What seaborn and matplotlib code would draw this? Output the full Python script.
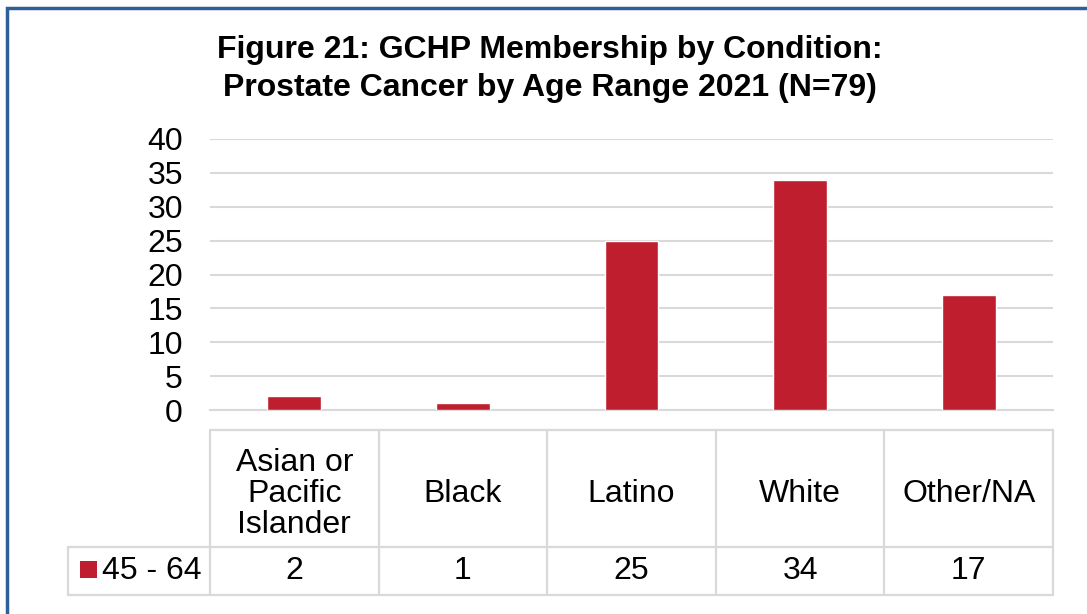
import matplotlib
matplotlib.use("Agg")
import matplotlib.pyplot as plt
from matplotlib.patches import Rectangle
from matplotlib.transforms import blended_transform_factory
import seaborn as sns
import pandas as pd

# Data
categories = ["Asian or\nPacific\nIslander", "Black", "Latino", "White", "Other/NA"]
values = [2, 1, 25, 34, 17]
series_name = "45 - 64"
title = "Figure 21: GCHP Membership by Condition:\nProstate Cancer by Age Range 2021 (N=79)"
yticks = [0, 5, 10, 15, 20, 25, 30, 35, 40]

BAR_COLOR = "#BE1E2D"
GRID_COLOR = "#D9D9D9"
FRAME_COLOR = "#2F5F98"
FS = 23

sns.set_theme(style="white")
plt.rcParams["font.family"] = ["Liberation Sans", "DejaVu Sans"]
plt.rcParams["text.color"] = "black"
plt.rcParams["ytick.color"] = "black"

W, H = 1087, 614
fig = plt.figure(figsize=(W / 100, H / 100), dpi=100)
fig.patch.set_facecolor("white")

# plot area in pixel terms
left_px, right_px, top_px, bottom_px = 210, 1053, 139, 410
ax = fig.add_axes([left_px / W, 1 - bottom_px / H,
                   (right_px - left_px) / W, (bottom_px - top_px) / H])

df = pd.DataFrame({"category": categories, "value": values})
sns.barplot(data=df, x="category", y="value", color=BAR_COLOR,
            saturation=1, width=0.32, ax=ax, zorder=3)

ax.set_ylim(0, 40)
ax.set_xlim(-0.5, len(categories) - 0.5)
ax.set_yticks(yticks)
ax.set_yticklabels([str(t) for t in yticks], fontsize=FS, color="black")
ax.tick_params(axis="y", length=0, pad=19.5)
ax.set_xticks([])
ax.set_xlabel("")
ax.set_ylabel("")
ax.grid(axis="y", color=GRID_COLOR, linewidth=1.5, zorder=0)
for s in ["left", "right", "top"]:
    ax.spines[s].set_visible(False)
ax.spines["bottom"].set_color(GRID_COLOR)
ax.spines["bottom"].set_linewidth(1.5)
ax.spines["bottom"].set_zorder(1)

fig.text(550 / W, 1 - 69 / H, title, ha="center", va="center",
         fontsize=FS, fontweight="bold", linespacing=1.33, color="black")

# Data table below the plot: x in data units, y in axes units
tr = blended_transform_factory(ax.transData, ax.transAxes)
ax_h = bottom_px - top_px
y_head_top = -(430 - bottom_px) / ax_h
y_mid = -(547 - bottom_px) / ax_h
y_bot = -(595 - bottom_px) / ax_h
y_head_text = -(494 - bottom_px) / ax_h
y_row = -(571 - bottom_px) / ax_h
cat_w = (right_px - left_px) / len(categories)
x_label_left = (68 - left_px) / cat_w - 0.5

line_kw = dict(color=GRID_COLOR, linewidth=1.6, transform=tr, clip_on=False)
n = len(categories)
# horizontal lines
ax.plot([-0.5, n - 0.5], [y_head_top, y_head_top], **line_kw)
ax.plot([x_label_left, n - 0.5], [y_mid, y_mid], **line_kw)
ax.plot([x_label_left, n - 0.5], [y_bot, y_bot], **line_kw)
# vertical lines
for i in range(n + 1):
    ax.plot([i - 0.5, i - 0.5], [y_head_top, y_bot], **line_kw)
ax.plot([x_label_left, x_label_left], [y_mid, y_bot], **line_kw)

for i, (c, v) in enumerate(zip(categories, values)):
    ax.text(i, y_head_text, c, transform=tr, ha="center",
            va="center", fontsize=FS, linespacing=1.04, clip_on=False,
            color="black")
    ax.text(i, y_row, str(v), transform=tr, ha="center",
            va="center", fontsize=FS, clip_on=False, color="black")

# legend key in the label cell
key_w = 17 / cat_w
key_h = 17 / ax_h
ax.add_patch(Rectangle((x_label_left + 12 / cat_w, y_row - key_h / 2 + 1.5 / ax_h),
                       key_w, key_h, facecolor=BAR_COLOR, edgecolor="none",
                       transform=tr, clip_on=False))
ax.text(x_label_left + 34 / cat_w, y_row, series_name, transform=tr,
        ha="left", va="center", fontsize=FS, clip_on=False, color="black")

# outer frame, open on the right and bottom edges
fig.patches.append(Rectangle((7 / W, -0.1), 2, 1 - 8 / H + 0.1,
                             transform=fig.transFigure, fill=False,
                             edgecolor=FRAME_COLOR, linewidth=2.5))

fig.savefig("out.png", dpi=100, facecolor="white")
